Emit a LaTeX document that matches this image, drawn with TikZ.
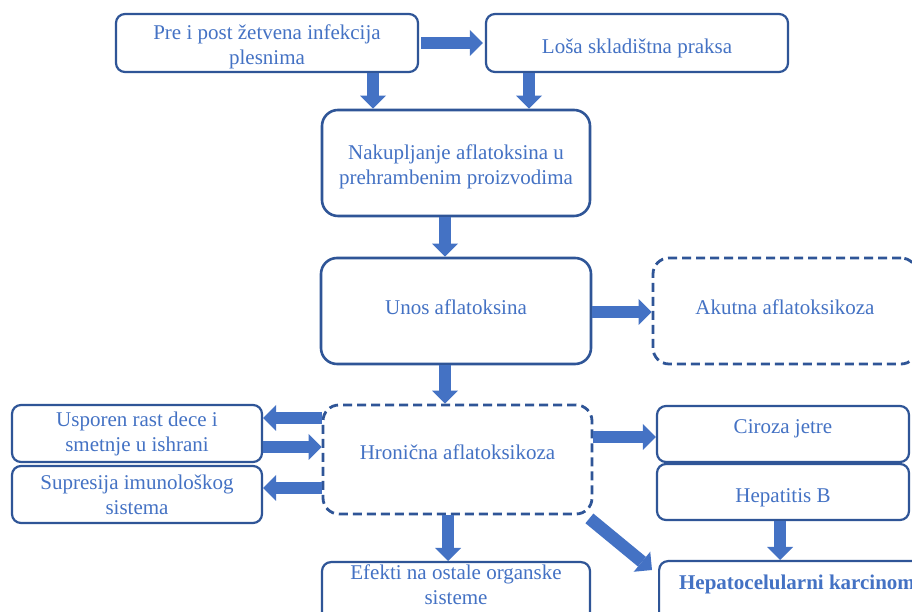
\documentclass[tikz,border=0pt]{standalone}
\usepackage{fontspec}
\setmainfont{Liberation Serif}
\usetikzlibrary{arrows.meta,calc}
\definecolor{txtc}{HTML}{4472C4}
\definecolor{bordc}{HTML}{2F5597}
\definecolor{arrc}{HTML}{4472C4}
\begin{document}
\begin{tikzpicture}[x=1pt,y=1pt,
  every node/.style={font=\fontsize{21}{25}\selectfont},
  box/.style={draw=bordc, line width=2.2pt, rounded corners=9pt, fill=white, text=txtc, align=center, inner sep=0pt},
  bigbox/.style={box, rounded corners=16pt, line width=2.6pt},
  dbox/.style={bigbox, dash pattern=on 9pt off 5pt, line width=2.8pt},
  barrow/.style={draw=arrc, line width=12.5pt, -{Triangle[width=26pt,length=13pt,line width=0pt]}}]
\useasboundingbox (0,0) rectangle (912,612);
\fill[white] (0,0) rectangle (912,612);

% nodes
\node[box, minimum width=302pt, minimum height=58pt, text height=47pt, text depth=4.5pt] (b1) at (267,569) {Pre i post žetvena infekcija\\plesnima};
\node[box, minimum width=302pt, minimum height=58pt, text height=22pt, text depth=0pt] (b2) at (637,569) {Loša skladištna praksa};
\node[bigbox, minimum width=268pt, minimum height=106pt, text height=47pt, text depth=4.5pt] (b3) at (456,449) {Nakupljanje aflatoksina u\\prehrambenim proizvodima};
\node[bigbox, minimum width=270pt, minimum height=106pt, text height=14pt, text depth=6pt] (b4) at (456,301) {Unos aflatoksina};
\node[dbox, minimum width=264pt, minimum height=106pt, text height=14pt, text depth=6pt] (b5) at (785,301) {Akutna aflatoksikoza};
\node[dbox, minimum width=269pt, minimum height=109pt, text height=14pt, text depth=13pt] (b6) at (457.5,152.5) {Hronična aflatoksikoza};
\node[box, minimum width=250pt, minimum height=57pt] (b7) at (137,178.5) {Usporen rast dece i\\smetnje u ishrani};
\node[box, minimum width=250pt, minimum height=57pt] (b8) at (137,117.5) {Supresija imunološkog\\sistema};
\node[box, anchor=north, minimum width=268pt, inner ysep=3pt, text depth=70pt] (b9) at (456,51) {Efekti na ostale organske\\sisteme};
\node[box, minimum width=252pt, minimum height=56pt, text height=14pt, text depth=14pt] (b10) at (783,178) {Ciroza jetre};
\node[box, minimum width=252pt, minimum height=56pt, text height=22pt, text depth=0pt] (b11) at (783,120) {Hepatitis B};
\node[box, anchor=north west, inner xsep=20pt, inner ysep=14pt, text depth=60pt, font=\fontsize{21}{25}\selectfont\bfseries] (b12) at (658,52) {Hepatocelularni karcinom};

% connectors
\draw[barrow] ([xshift=2pt]b1.east) -- ([xshift=-2pt]b2.west);
\draw[barrow] (b1.south -| 373,0) -- (b3.north -| 373,0);
\draw[barrow] (b2.south -| 529,0) -- (b3.north -| 529,0);
\draw[barrow] (b3.south -| 445,0) -- (b4.north -| 445,0);
\draw[barrow] (b4.east |- 0,300) -- (b5.west |- 0,300);
\draw[barrow] (b4.south -| 445,0) -- (b6.north -| 445,0);
\draw[barrow] (b6.west |- 0,194) -- (b7.east |- 0,194);
\draw[barrow] (b7.east |- 0,165) -- (b6.west |- 0,165);
\draw[barrow] (b6.west |- 0,124) -- (b8.east |- 0,124);
\draw[barrow] (b6.south -| 448,0) -- (b9.north -| 448,0);
\draw[barrow] (b6.east |- 0,175) -- (b10.west |- 0,175);
\draw[barrow] (b11.south -| 780,0) -- (b12.north -| 780,0);
\draw[barrow] ($(b6.south east)+(-4,-3)$) -- ($(b12.north west)+(-6,-10)$);
\end{tikzpicture}
\end{document}
